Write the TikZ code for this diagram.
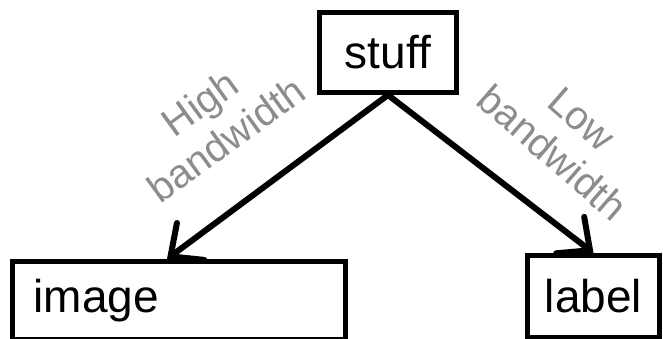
\documentclass[tikz,border=0pt]{standalone}
\usepackage{fontspec}
\setmainfont{Liberation Sans}
\usetikzlibrary{arrows.meta}
\begin{document}
\begin{tikzpicture}[x=1pt,y=-1pt,
  box/.style={draw=black,line width=5pt,inner sep=0pt,anchor=north west,font=\fontsize{46}{50}\selectfont},
  flow/.style={line width=6pt,-{Straight Barb[length=25pt,width=46pt,line cap=round]},line cap=round},
  bw/.style={text=black!45,font=\fontsize{40}{45}\selectfont,align=center}]
\useasboundingbox (0,0) rectangle (663,339);
% boxed nodes
\node[box,minimum width=137pt,minimum height=80pt] (stuff) at (317,10) {stuff};
\node[box,minimum width=333pt,minimum height=78pt,text width=291pt,align=left] (image) at (10,259) {image};
\node[box,minimum width=132pt,minimum height=82pt] (label) at (525,253) {label};
% connectors
\draw[flow] (stuff.south) -- ([xshift=-12pt]image.north);
\draw[flow] (stuff.south) -- (label.north);
% rotated bandwidth labels
\node[bw,rotate=36] (hb) at (213,121) {High\\bandwidth};
\node[bw,rotate=-41] (lb) at (567,136) {Low\\bandwidth};
\end{tikzpicture}
\end{document}
